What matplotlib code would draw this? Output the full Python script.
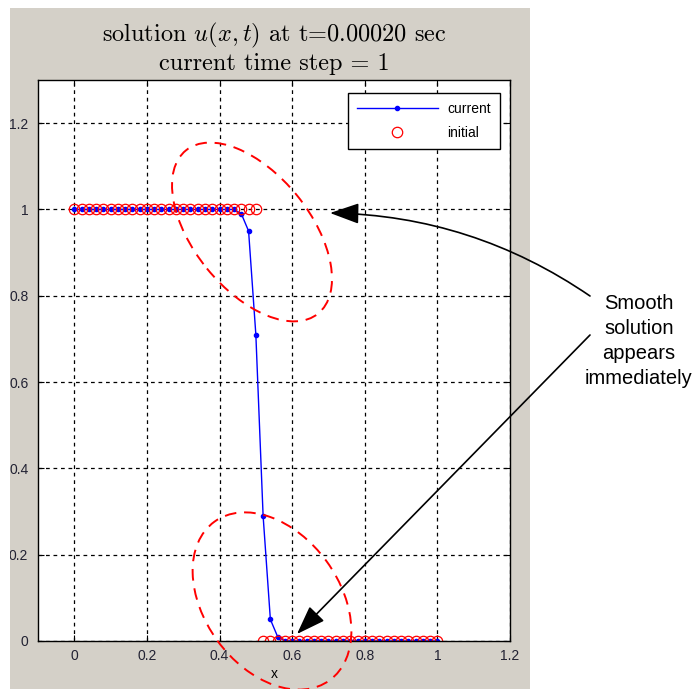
import numpy as np
import matplotlib
matplotlib.use('Agg')
import matplotlib.pyplot as plt
from matplotlib.patches import Ellipse, Rectangle
from matplotlib.transforms import IdentityTransform

plt.rcParams['font.family'] = ['Liberation Sans', 'DejaVu Sans']
plt.rcParams['mathtext.fontset'] = 'cm'

# grid points and solution values
x_grid = np.linspace(0.0, 1.0, 51)
u_initial = [1.0] * 26 + [0.0] * 25
u_current = [1.0] * 23 + [0.99, 0.95, 0.71, 0.29, 0.05, 0.01] + [0.0] * 22

x_ticks = [0, 0.2, 0.4, 0.6, 0.8, 1, 1.2]
y_ticks = [0, 0.2, 0.4, 0.6, 0.8, 1, 1.2]
tick_text = ['0', '0.2', '0.4', '0.6', '0.8', '1', '1.2']

W, H = 696, 689
fig = plt.figure(figsize=(W / 100, H / 100), dpi=100)
fig.patch.set_facecolor('white')

# matlab window grey
fig.add_artist(Rectangle((10 / W, 0), 520 / W, 681 / H, transform=fig.transFigure,
                         facecolor='#d4d0c8', edgecolor='none', zorder=-1))

ax = fig.add_axes([38 / W, 48 / H, 472 / W, 561 / H])
ax.plot(x_grid, u_current, color='blue', lw=1.0, marker='.', ms=6, label='current')
ax.plot(x_grid, u_initial, ls='none', marker='o', ms=7.5, mfc='none', mec='red', mew=0.9,
        label='initial')

ax.set_xlim(-0.1, 1.2)
ax.set_ylim(0, 1.3)
ax.set_xticks(x_ticks)
ax.set_xticklabels(tick_text)
ax.set_yticks(y_ticks)
ax.set_yticklabels(tick_text)
ax.tick_params(direction='in', top=True, right=True, length=4, width=0.8,
               labelsize=10, labelcolor='#222233', pad=6)
ax.tick_params(axis='y', pad=7)
ax.grid(True, color='black', ls=(0, (3, 3)), lw=0.9)
ax.set_axisbelow(True)
for s in ax.spines.values():
    s.set_linewidth(1.0)
ax.set_xlabel('x', fontsize=10, labelpad=3)

ax.set_title('solution $u(x,t)$ at t=0.00020 sec\ncurrent time step = 1',
             fontfamily='cmr10', fontsize=17.5, linespacing=1.2, pad=7)

leg = ax.legend(loc='upper right', bbox_to_anchor=(0.979, 0.977), fontsize=10,
                fancybox=False, edgecolor='black', framealpha=1, handlelength=5.8,
                handletextpad=0.7, borderpad=0.65, labelspacing=0.7, borderaxespad=0)
leg.get_frame().set_linewidth(1.0)

# dashed ellipses (figure pixels)
for cx, cy, ew, eh, ang in [(252, H - 232, 210, 116, -51), (272, H - 601, 196, 135, -54)]:
    e = Ellipse((cx, cy), ew, eh, angle=ang, transform=IdentityTransform(),
                fill=False, edgecolor='red', lw=1.4, ls=(0, (6, 4)), clip_on=False, zorder=5)
    ax.add_artist(e)

# annotation text and arrows
fig.text(639 / W, 1 - 341 / H, 'Smooth\nsolution\nappears\nimmediately', ha='center',
         va='center', fontsize=14.5, linespacing=1.38)
ax.annotate('', xy=(330, H - 213), xycoords='figure pixels', xytext=(590, H - 296),
            textcoords='figure pixels', annotation_clip=False,
            arrowprops=dict(arrowstyle='-|>,head_length=0.9,head_width=0.32', color='black',
                            lw=1.2, mutation_scale=20, shrinkA=0, shrinkB=0,
                            connectionstyle='arc3,rad=0.15'))
ax.annotate('', xy=(297, H - 634), xycoords='figure pixels', xytext=(590, H - 335),
            textcoords='figure pixels', annotation_clip=False,
            arrowprops=dict(arrowstyle='-|>,head_length=0.9,head_width=0.32', color='black',
                            lw=1.2, mutation_scale=20, shrinkA=0, shrinkB=0))

# screenshot crop on the left edge
fig.add_artist(Rectangle((0, 0), 10 / W, 1, transform=fig.transFigure,
                         facecolor='white', edgecolor='none', zorder=10))

fig.savefig('out.png', dpi=100)
